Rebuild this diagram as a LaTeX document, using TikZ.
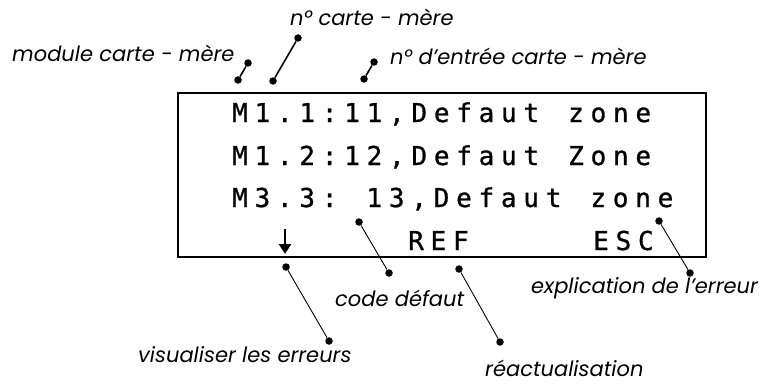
\documentclass[tikz,border=0pt]{standalone}
\usepackage{fontspec}
\usepackage{tikz}
\usetikzlibrary{arrows.meta}
\setmainfont{Poppins}
\newfontfamily\lcdfont[LetterSpace=26, FakeBold=1]{DejaVu Sans Mono}
\newcommand{\lcdgap}{\hspace*{29pt}}

\begin{document}
\begin{tikzpicture}[x=1pt, y=-1pt,
    lcdtext/.style={anchor=base west, inner sep=0pt, font=\lcdfont\fontsize{26}{26}\selectfont},
    notetext/.style={anchor=base west, inner sep=0pt, font=\itshape\fontsize{21}{21}\selectfont},
    leaddot/.style={circle, fill=black, inner sep=0pt, minimum size=7.5pt},
    shortlead/.style={line width=1.6pt},
    longlead/.style={line width=0.9pt}]
    \useasboundingbox (0,0) rectangle (759,385);

    % display
    \draw[line width=2.6pt] (178,93) rectangle (706,257);
    \node[lcdtext] (row1) at (232,122) {M1.1:11,Defaut\lcdgap zone};
    \node[lcdtext] (row2) at (232,165) {M1.2:12,Defaut\lcdgap Zone};
    \node[lcdtext] (row3) at (232,207) {M3.3:\lcdgap 13,Defaut\lcdgap zone};
    \node[lcdtext] (ref) at (408,250) {REF};
    \node[lcdtext] (esc) at (593,250) {ESC};
    \coordinate (arrtop) at (285,229);
    \coordinate (arrtip) at (285,254);
    \draw[line width=2.6pt, -{Triangle[length=10pt, width=12pt]}] (arrtop) -- (arrtip);

    % upper notes
    \node[notetext] (modnote) at (12,62) {module carte - mère};
    \node[notetext] (cardnote) at (290,26) {n° carte - mère};
    \node[notetext] (innote) at (390,65) {n° d'entrée carte - mère};
    \node[leaddot] (m1) at (248,63) {};
    \node[leaddot] (m2) at (238,80) {};
    \node[leaddot] (c1) at (298,38) {};
    \node[leaddot] (c2) at (273,81) {};
    \node[leaddot] (i1) at (374,62) {};
    \node[leaddot] (i2) at (364,79) {};
    \draw[shortlead] (m1) -- (m2);
    \draw[shortlead] (c1) -- (c2);
    \draw[shortlead] (i1) -- (i2);

    % lower notes
    \node[notetext] (codenote) at (335,306) {code défaut};
    \node[notetext] (viewnote) at (138,362) {visualiser les erreurs};
    \node[notetext] (refnote) at (485,376) {réactualisation};
    \node[notetext] (expnote) at (531,293) {explication de l'erreur};
    \node[leaddot] (d1) at (359,222) {};
    \node[leaddot] (d2) at (389,273) {};
    \node[leaddot] (v1) at (286,267) {};
    \node[leaddot] (v2) at (329,341) {};
    \node[leaddot] (r1) at (459,269) {};
    \node[leaddot] (r2) at (500,342) {};
    \node[leaddot] (e1) at (659,221) {};
    \node[leaddot] (e2) at (690,273) {};
    \draw[longlead] (d1) -- (d2);
    \draw[longlead] (v1) -- (v2);
    \draw[longlead] (r1) -- (r2);
    \draw[longlead] (e1) -- (e2);
\end{tikzpicture}
\end{document}
